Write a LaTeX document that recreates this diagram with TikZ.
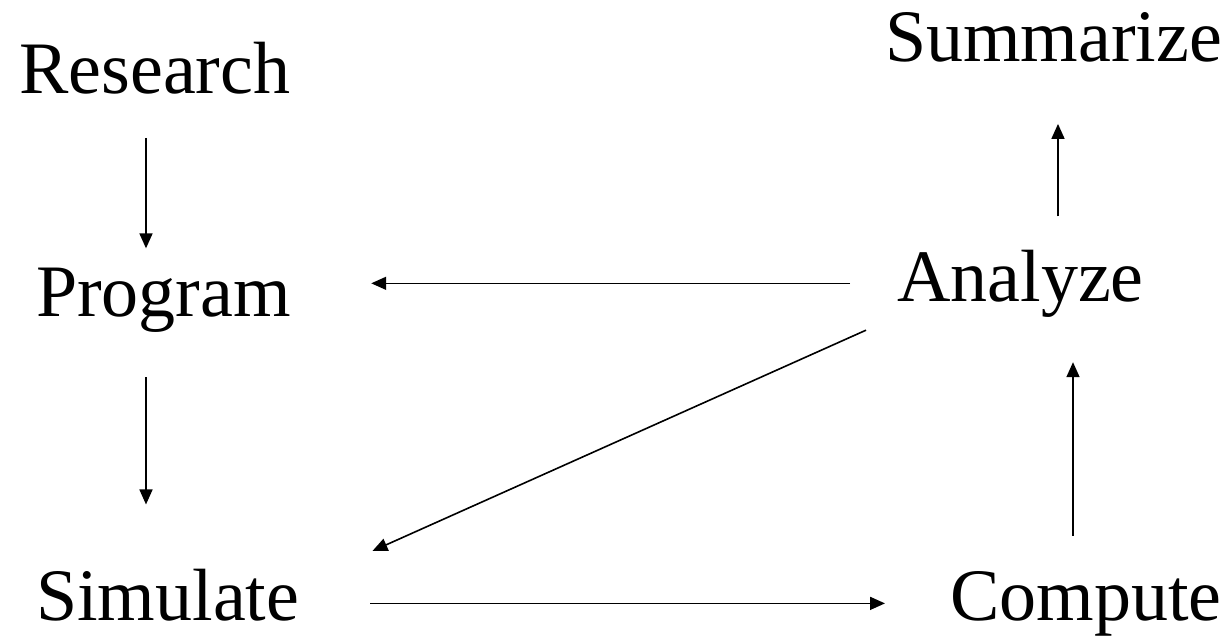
\documentclass[tikz,border=0pt]{standalone}
\usepackage{fontspec}
\setmainfont{Liberation Serif}
\usetikzlibrary{arrows.meta}
\begin{document}
\begin{tikzpicture}[x=1pt,y=-1pt,
  lbl/.style={anchor=base west,inner sep=0pt,font=\fontsize{74}{80}\selectfont},
  flow/.style={line width=1.6pt,-{Triangle[length=15pt,width=13pt]}}]
\useasboundingbox (0,0) rectangle (1229,638);

\node[lbl] (research) at (19,93) {Research};
\node[lbl] (program) at (36,316) {Program};
\node[lbl] (simulate) at (36,620) {Simulate};
\node[lbl] (summarize) at (885,61) {Summarize};
\node[lbl] (analyze) at (897,301) {Analyze};
\node[lbl] (compute) at (950,620) {Compute};

\draw[flow,shorten <=44pt,shorten >=19pt] (research.south -| 146,0) -- (program.north -| 146,0);
\draw[flow,shorten <=45pt,shorten >=64pt] (program.south -| 146,0) -- (simulate.north -| 146,0);
\draw[flow,shorten <=71pt,shorten >=65pt] (simulate.east |- compute.west) -- (compute.west);
\draw[flow,shorten <=35pt,shorten >=45pt] (compute.north -| 1073,0) -- (analyze.south -| 1073,0);
\draw[flow,shorten <=47pt,shorten >=80pt] (analyze.west) -- (analyze.west -| program.east);
\draw[flow] ([xshift=-31pt,yshift=-13pt]analyze.south west) -- ([xshift=73pt,yshift=17.5pt]simulate.north east);
\draw[flow,shorten <=33pt,shorten >=62pt] (analyze.north -| 1058,0) -- (summarize.south -| 1058,0);
\end{tikzpicture}
\end{document}
